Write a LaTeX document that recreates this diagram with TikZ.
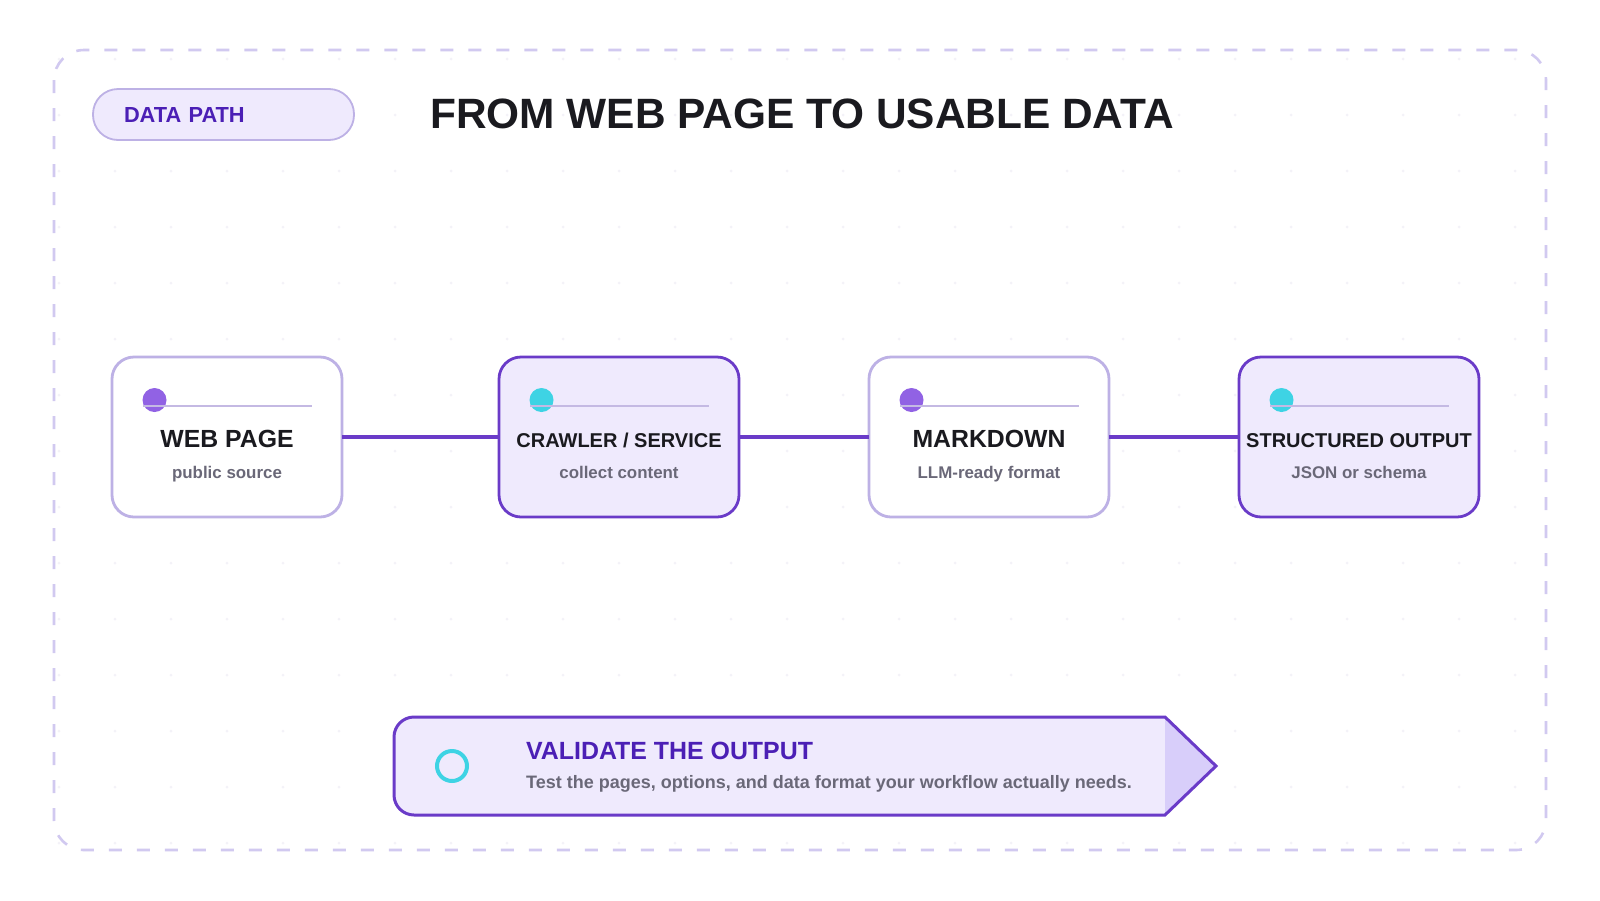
\documentclass[tikz,border=0pt]{standalone}
\usepackage{fontspec}
\setmainfont{Liberation Sans}
\usepackage{xcolor}
\usepackage{tikz}
\usetikzlibrary{positioning}

\definecolor{inkviolet}{HTML}{4B1FB5}
\definecolor{lineviolet}{HTML}{6A3BC8}
\definecolor{softline}{HTML}{BDB1E5}
\definecolor{softfill}{HTML}{EFEAFD}
\definecolor{tipfill}{HTML}{D8CEFA}
\definecolor{dotviolet}{HTML}{9162E4}
\definecolor{dotcyan}{HTML}{3ED3E4}
\definecolor{ruleline}{HTML}{C4B9E3}
\definecolor{subgray}{HTML}{6A6878}
\definecolor{titleink}{HTML}{1A1A1F}
\definecolor{frameline}{HTML}{D1C9F0}
\definecolor{gridspot}{HTML}{F3F2F8}

\tikzset{
    stage/.style={draw, line width=2.8pt, rounded corners=22pt, outer sep=0pt,
        minimum height=160pt, minimum width=240pt},
    stagelight/.style={stage, draw=softline, fill=white},
    stagedark/.style={stage, draw=lineviolet, fill=softfill},
    stagebig/.style={anchor=base, inner sep=0pt, text=titleink,
        font=\bfseries\fontsize{24.8}{28}\selectfont},
    stagesmall/.style={anchor=base, inner sep=0pt, text=titleink,
        font=\bfseries\fontsize{20}{24}\selectfont},
    stagesub/.style={anchor=base, inner sep=0pt, text=subgray,
        font=\bfseries\fontsize{16.9}{20}\selectfont},
    link/.style={draw=lineviolet, line width=3.2pt},
    pill/.style={draw=softline, fill=softfill, line width=1.8pt, rounded corners=25pt,
        minimum height=51pt, text width=199pt, inner xsep=31pt, align=left,
        text=inkviolet, font=\bfseries\fontsize{21.8}{24}\selectfont},
    ring/.style={circle, draw=dotcyan, line width=4pt, minimum size=30pt, inner sep=0pt}
}

\begin{document}
\begin{tikzpicture}[x=1pt, y=-1pt]
    \useasboundingbox (0,0) rectangle (1600,900);
    \fill[white] (0,0) rectangle (1600,900);

    % dot grid and frame
    \foreach \i in {1,...,27}
        \foreach \j in {1,...,15}
            \fill[gridspot] (3+56*\i, 3+56*\j) circle (1.5pt);
    \draw[frameline, line width=2.6pt, dash pattern=on 13pt off 15pt, rounded corners=30pt]
        (54,50) rectangle (1546,850);

    % header
    \node[pill] (tag) at (223.5,114.5) {DATA PATH};
    \node[anchor=base west, inner sep=0pt, text=titleink,
        font=\bfseries\fontsize{42.4}{48}\selectfont] (head) at (430,128)
        {FROM WEB PAGE TO USABLE DATA};

    % stages
    \node[stagelight, minimum width=230pt] (web) at (227,437) {};
    \node[stagedark, right=157pt of web] (crawl) {};
    \node[stagelight, right=130pt of crawl] (md) {};
    \node[stagedark, right=130pt of md] (out) {};

    \draw[link] (web) -- (crawl);
    \draw[link] (crawl) -- (md);
    \draw[link] (md) -- (out);

    \foreach \b/\c in {web/dotviolet, crawl/dotcyan, md/dotviolet, out/dotcyan} {
        \fill[\c] ([xshift=42.5pt, yshift=-43pt]\b.north west) circle (12pt);
        \draw[ruleline, line width=2pt] ([xshift=31pt, yshift=-48.5pt]\b.north west)
            -- ([xshift=-30pt, yshift=-48.5pt]\b.north east);
    }

    \node[stagebig] (webT) at ([yshift=-10pt]web.center) {WEB PAGE};
    \node[stagesub] (webS) at ([yshift=-41pt]web.center) {public source};
    \node[stagesmall] (crawlT) at ([yshift=-10pt]crawl.center) {CRAWLER / SERVICE};
    \node[stagesub] (crawlS) at ([yshift=-41pt]crawl.center) {collect content};
    \node[stagebig] (mdT) at ([yshift=-10pt]md.center) {MARKDOWN};
    \node[stagesub] (mdS) at ([yshift=-41pt]md.center) {LLM-ready format};
    \node[stagesmall] (outT) at ([yshift=-10pt]out.center) {STRUCTURED OUTPUT};
    \node[stagesub] (outS) at ([yshift=-41pt]out.center) {JSON or schema};

    % validation banner
    \fill[softfill] (1165,717) -- (1216,766) -- (1165,815) -- (414,815)
        .. controls (403,815) and (394,806) .. (394,795) -- (394,737)
        .. controls (394,726) and (403,717) .. (414,717) -- cycle;
    \fill[tipfill] (1165,717) -- (1216,766) -- (1165,815) -- cycle;
    \draw[lineviolet, line width=3pt] (1165,717) -- (1216,766) -- (1165,815) -- (414,815)
        .. controls (403,815) and (394,806) .. (394,795) -- (394,737)
        .. controls (394,726) and (403,717) .. (414,717) -- cycle;
    \node[ring] (check) at (452,766) {};
    \node[anchor=base west, inner sep=0pt, text=inkviolet,
        font=\bfseries\fontsize{24.9}{28}\selectfont] (valT) at (526,759)
        {VALIDATE THE OUTPUT};
    \node[anchor=base west, inner sep=0pt, text=subgray,
        font=\bfseries\fontsize{18}{22}\selectfont] (valS) at (526,788)
        {Test the pages, options, and data format your workflow actually needs.};
\end{tikzpicture}
\end{document}
